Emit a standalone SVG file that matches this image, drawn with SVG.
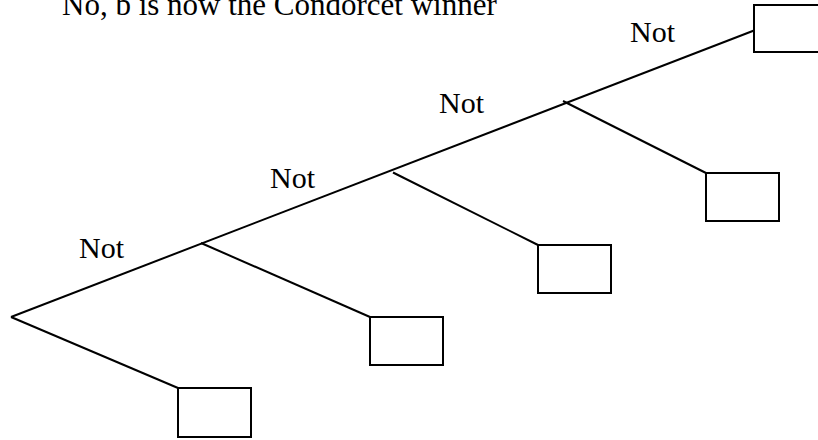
<svg xmlns="http://www.w3.org/2000/svg" width="818" height="440" viewBox="0 0 818 440">
  <style>
    .edge { stroke: #000; stroke-width: 2; fill: none; stroke-linecap: butt; }
    .leaf { stroke: #000; stroke-width: 2; fill: #fff; }
    .lbl { font-family: "Liberation Serif", "Times New Roman", serif; font-size: 30px; fill: #000; }
    .title { font-size: 31px; }
  </style>
  <rect width="818" height="440" fill="#fff"/>
  <text class="lbl title" x="62" y="15">No, b is now the Condorcet winner</text>
  <g id="connectors">
    <line class="edge" x1="11" y1="317" x2="754" y2="30.5"/>
    <line class="edge" x1="11" y1="317" x2="178" y2="388"/>
    <line class="edge" x1="201" y1="243" x2="370" y2="317"/>
    <line class="edge" x1="393" y1="172.5" x2="538" y2="245"/>
    <line class="edge" x1="563" y1="101" x2="706" y2="173"/>
  </g>
  <g id="label-not-1"><text class="lbl" x="79" y="258">Not</text></g>
  <g id="label-not-2"><text class="lbl" x="270" y="188">Not</text></g>
  <g id="label-not-3"><text class="lbl" x="439" y="113">Not</text></g>
  <g id="label-not-4"><text class="lbl" x="630" y="42">Not</text></g>
  <g id="leaf-1"><rect class="leaf" x="178" y="388" width="73" height="49"/></g>
  <g id="leaf-2"><rect class="leaf" x="370" y="317" width="73" height="48"/></g>
  <g id="leaf-3"><rect class="leaf" x="538" y="245" width="73" height="48"/></g>
  <g id="leaf-4"><rect class="leaf" x="706" y="173" width="73" height="48"/></g>
  <g id="leaf-5"><rect class="leaf" x="754" y="5" width="73" height="47"/></g>
</svg>
